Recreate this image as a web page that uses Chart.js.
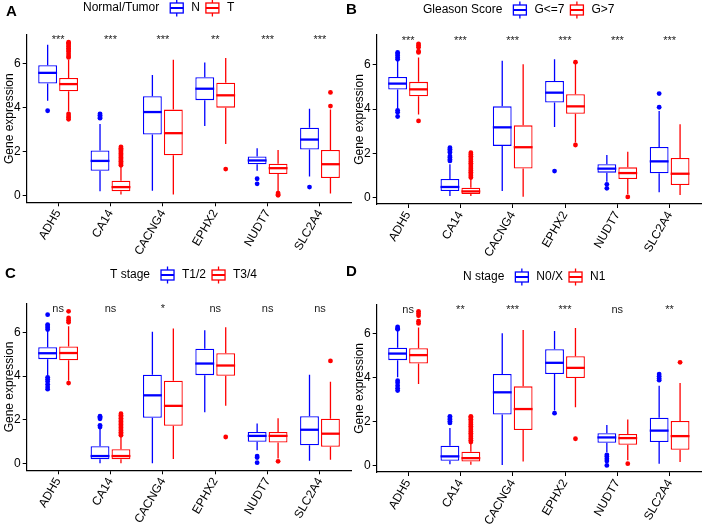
<!DOCTYPE html>
<html>
<head>
<meta charset="utf-8">
<script src="https://cdn.jsdelivr.net/npm/chart.js@4.4.1/dist/chart.umd.min.js"></script>
<style>
  html, body { margin: 0; padding: 0; background: #fff; }
  #wrap { position: relative; width: 703px; height: 524px; overflow: hidden; }
  canvas { position: absolute; }
</style>
</head>
<body>
<div id="wrap">
  <canvas id="chartA" width="352" height="262" style="left:0;top:0"></canvas>
  <canvas id="chartB" width="360" height="262" style="left:343px;top:0"></canvas>
  <canvas id="chartC" width="352" height="262" style="left:0;top:262px"></canvas>
  <canvas id="chartD" width="360" height="262" style="left:343px;top:262px"></canvas>
</div>
<script>
// genes on the x axis
const genes = ['ADH5', 'CA14', 'CACNG4', 'EPHX2', 'NUDT7', 'SLC2A4'];
const yTicks = [0, 2, 4, 6];

// box stats per gene: [lower whisker, Q1, median, Q3, upper whisker]
// A - Normal/Tumor
const boxA_N = [[4.31, 5.10, 5.58, 5.93, 6.86], [0.20, 1.13, 1.58, 2.05, 3.26], [0.23, 2.78, 3.80, 4.52, 5.48],
                [3.17, 4.34, 4.86, 5.38, 6.05], [1.13, 1.43, 1.60, 1.78, 2.16], [0.87, 2.10, 2.55, 3.09, 3.95]];
const boxA_T = [[3.82, 4.74, 5.07, 5.35, 6.18], [0.05, 0.20, 0.39, 0.68, 1.33], [0.05, 1.84, 2.84, 3.91, 6.18],
                [2.35, 4.00, 4.56, 5.13, 6.26], [0.20, 0.98, 1.25, 1.45, 2.08], [0.10, 0.80, 1.43, 2.08, 3.92]];
const outA_N = [[3.86], [3.52, 3.58, 3.65, 3.72], [], [], [0.77, 0.54], [0.39]];
const outA_T = [[6.28, 6.35, 6.45, 6.55, 6.62, 6.70, 6.78, 6.85, 6.92, 6.97, 3.72, 3.62, 3.55, 3.47],
                [1.38, 1.44, 1.50, 1.56, 1.62, 1.68, 1.74, 1.80, 1.86, 1.92, 1.98, 2.04, 2.10, 2.16, 2.22],
                [], [1.21], [0.12, 0.06, 0.02], [4.07, 4.69]];
const sigA = ['***', '***', '***', '**', '***', '***'];

// B - Gleason Score
const boxB_L = [[4.02, 4.88, 5.15, 5.45, 6.18], [0.06, 0.29, 0.47, 0.83, 1.50], [0.29, 2.33, 3.17, 4.12, 6.18],
                [3.19, 4.29, 4.74, 5.27, 6.25], [0.71, 1.12, 1.30, 1.50, 1.92], [0.23, 1.09, 1.63, 2.28, 3.91]];
const boxB_H = [[3.75, 4.58, 4.89, 5.23, 6.33], [0.06, 0.15, 0.27, 0.44, 0.85], [0.03, 1.31, 2.27, 3.26, 6.03],
                [2.48, 3.78, 4.12, 4.67, 6.05], [0.14, 0.83, 1.10, 1.36, 2.07], [0.11, 0.56, 1.07, 1.78, 3.31]];
const outB_L = [[6.25, 6.33, 6.42, 6.50, 6.56, 3.94, 3.85, 3.66], [2.25, 2.18, 2.10, 2.03, 1.87, 1.80, 1.72, 1.65],
                [], [1.19], [0.59, 0.41], [4.08, 4.70]];
const outB_H = [[6.56, 6.62, 6.80, 6.88, 6.95, 3.46],
                [0.90, 0.98, 1.06, 1.14, 1.22, 1.30, 1.38, 1.46, 1.54, 1.62, 1.70, 1.78, 1.86, 1.94, 2.02],
                [], [6.12, 2.37], [0.02], []];
const sigB = ['***', '***', '***', '***', '***', '***'];

// C - T stage
const boxC_1 = [[4.01, 4.77, 5.04, 5.31, 6.05], [0.02, 0.20, 0.35, 0.80, 1.60], [0.02, 2.10, 3.12, 4.06, 6.02],
                [2.35, 4.04, 4.57, 5.25, 6.09], [0.62, 1.00, 1.27, 1.45, 1.83], [0.14, 0.84, 1.55, 2.17, 4.06]];
const boxC_3 = [[3.79, 4.72, 5.05, 5.35, 6.27], [0.02, 0.20, 0.35, 0.66, 1.22], [0.21, 1.73, 2.64, 3.79, 6.17],
                [2.65, 4.01, 4.48, 5.04, 6.23], [0.24, 0.97, 1.27, 1.45, 2.08], [0.18, 0.77, 1.37, 2.05, 3.74]];
const outC_1 = [[6.80, 6.35, 6.28, 6.20, 6.12, 3.94, 3.85, 3.75, 3.62, 3.50, 3.40], [1.67, 1.75, 2.05, 2.12, 2.17],
                [], [], [0.35, 0.28, 0.05], []];
const outC_3 = [[6.95, 6.65, 6.55, 6.45, 3.68],
                [1.30, 1.37, 1.44, 1.51, 1.58, 1.65, 1.72, 1.79, 1.86, 1.93, 2.00, 2.07, 2.14, 2.21, 2.28],
                [], [1.22], [0.11], [4.69]];
const sigC = ['ns', 'ns', '*', 'ns', 'ns', 'ns'];

// D - N stage
const boxD_0 = [[4.00, 4.78, 5.08, 5.35, 6.11], [0.05, 0.21, 0.41, 0.89, 1.70], [0.02, 2.31, 3.32, 4.15, 6.00],
                [2.49, 4.15, 4.66, 5.28, 6.11], [0.60, 1.03, 1.27, 1.46, 1.84], [0.08, 1.06, 1.58, 2.17, 3.62]];
const boxD_1 = [[3.70, 4.63, 5.01, 5.32, 6.26], [0.03, 0.18, 0.33, 0.62, 0.98], [0.18, 1.61, 2.56, 3.59, 6.15],
                [2.64, 3.97, 4.43, 4.96, 6.24], [0.23, 0.94, 1.24, 1.43, 2.08], [0.15, 0.71, 1.33, 2.02, 3.74]];
const outD_0 = [[6.29, 6.22, 6.18, 3.85, 3.75, 3.62, 3.50, 3.40], [2.23, 2.15, 2.08, 2.00, 1.93],
                [], [2.37], [0.48, 0.40, 0.30, 0.20, 0.00], [4.15, 4.05, 3.95, 3.87]];
const outD_1 = [[7.00, 6.90, 6.80, 6.55, 6.45],
                [1.06, 1.14, 1.22, 1.30, 1.38, 1.46, 1.54, 1.62, 1.70, 1.78, 1.86, 1.94, 2.02, 2.10, 2.18, 2.23],
                [], [1.21], [0.08], [4.68]];
const sigD = ['ns', '**', '***', '***', 'ns', '**'];

const FONT = '"Liberation Sans", Arial, Helvetica, sans-serif';
Chart.defaults.font.family = FONT;
Chart.defaults.color = '#000';

// draws whiskers, medians, outliers, p-value labels, legend and panel letter
const boxExtras = {
    id: 'boxExtras',
    afterDatasetsDraw(chart, args, opts) {
        const ctx = chart.ctx;
        const x = chart.scales.x, y = chart.scales.y;
        chart.data.datasets.forEach((ds, k) => {
            const meta = chart.getDatasetMeta(k);
            meta.data.forEach((bar, i) => {
                const s = ds.stats[i];
                const cx = bar.x, w = bar.width;
                ctx.save();
                ctx.strokeStyle = ds.borderColor;
                ctx.lineWidth = 1.3;
                ctx.beginPath();
                ctx.moveTo(cx, y.getPixelForValue(s[4]));
                ctx.lineTo(cx, y.getPixelForValue(s[3]));
                ctx.moveTo(cx, y.getPixelForValue(s[1]));
                ctx.lineTo(cx, y.getPixelForValue(s[0]));
                ctx.stroke();
                ctx.lineWidth = 2.3;
                const ym = y.getPixelForValue(s[2]);
                ctx.beginPath();
                ctx.moveTo(cx - w / 2, ym);
                ctx.lineTo(cx + w / 2, ym);
                ctx.stroke();
                ctx.fillStyle = ds.borderColor;
                ds.outliers[i].forEach(v => {
                    ctx.beginPath();
                    ctx.arc(cx, y.getPixelForValue(v), 2.4, 0, Math.PI * 2);
                    ctx.fill();
                });
                ctx.restore();
            });
        });
        ctx.save();
        ctx.font = '11px ' + FONT;
        ctx.fillStyle = '#222';
        ctx.textAlign = 'center';
        ctx.textBaseline = 'alphabetic';
        opts.sig.forEach((t, i) => {
            ctx.fillText(t, x.getPixelForValue(i + 1), y.getPixelForValue(6.93));
        });
        ctx.restore();
    },
    afterDraw(chart, args, opts) {
        const ctx = chart.ctx;
        ctx.save();
        // panel letter
        ctx.font = 'bold 15px ' + FONT;
        ctx.fillStyle = '#000';
        ctx.textBaseline = 'middle';
        ctx.textAlign = 'left';
        ctx.fillText(opts.letter, opts.letterX, opts.letterY);
        // legend
        ctx.font = '12px ' + FONT;
        let lx = opts.legendX;
        const ly = opts.legendY;
        ctx.fillText(opts.title, lx, ly);
        lx += ctx.measureText(opts.title).width + 11;
        chart.data.datasets.forEach(ds => {
            ctx.strokeStyle = ds.borderColor;
            ctx.lineWidth = 1.3;
            ctx.strokeRect(lx, ly - 5, 13, 10);
            ctx.beginPath();
            ctx.moveTo(lx + 6.5, ly - 8.5); ctx.lineTo(lx + 6.5, ly - 5);
            ctx.moveTo(lx + 6.5, ly + 5); ctx.lineTo(lx + 6.5, ly + 8.5);
            ctx.stroke();
            ctx.lineWidth = 2;
            ctx.beginPath();
            ctx.moveTo(lx, ly); ctx.lineTo(lx + 13, ly);
            ctx.stroke();
            lx += 13 + 8;
            ctx.fillText(ds.label, lx, ly);
            lx += ctx.measureText(ds.label).width + 6;
        });
        ctx.restore();
    }
};

function createBoxChart(id, p) {
    const ctx = document.getElementById(id).getContext('2d');
    const canvasH = 262;
    const datasets = p.groups.map(g => ({
        label: g.name,
        data: g.box.map((b, i) => ({ x: i + 1, y: [b[1], b[3]] })),
        stats: g.box,
        outliers: g.out,
        backgroundColor: '#fff',
        borderColor: g.color,
        borderWidth: 1.3,
        borderSkipped: false,
        categoryPercentage: 0.8,
        barPercentage: 0.9
    }));

    new Chart(ctx, {
        type: 'bar',
        data: { datasets: datasets },
        plugins: [boxExtras],
        options: {
            responsive: false,
            animation: false,
            events: [],
            layout: { padding: { top: p.top, left: p.left, right: p.right, bottom: 0 } },
            plugins: {
                legend: { display: false },
                tooltip: { enabled: false },
                boxExtras: p.extras
            },
            scales: {
                x: {
                    type: 'linear',
                    offset: false,
                    min: 0.4,
                    max: 6.6,
                    afterBuildTicks: s => { s.ticks = genes.map((g, i) => ({ value: i + 1 })); },
                    afterFit: s => { s.height = canvasH - p.bottom; },
                    ticks: {
                        autoSkip: false,
                        maxRotation: 60,
                        minRotation: 60,
                        padding: 1,
                        font: { size: 12 },
                        color: '#000',
                        callback: v => genes[Math.round(v) - 1]
                    },
                    grid: { display: true, drawOnChartArea: false, drawTicks: true, tickLength: 4, color: '#000', offset: false },
                    border: { display: true, color: '#000', width: 1.2 }
                },
                y: {
                    min: -0.3,
                    max: p.yMax,
                    afterBuildTicks: s => { s.ticks = yTicks.map(v => ({ value: v })); },
                    afterFit: s => { s.width = 26.7; },
                    ticks: { padding: 2, font: { size: 12 }, color: '#000' },
                    grid: { display: true, drawOnChartArea: false, drawTicks: true, tickLength: 4, color: '#000' },
                    border: { display: true, color: '#000', width: 1.2 },
                    title: { display: true, text: 'Gene expression', font: { size: 12 }, color: '#000', padding: { top: 2, bottom: 0 } }
                }
            }
        }
    });
}

createBoxChart('chartA', {
    left: 0, top: 35, right: 0.6, bottom: 202.3, yMax: 7.3,
    groups: [{ name: 'N', color: '#0000FF', box: boxA_N, out: outA_N },
             { name: 'T', color: '#FF0000', box: boxA_T, out: outA_T }],
    extras: { sig: sigA, letter: 'A', letterX: 6, letterY: 12, title: 'Normal/Tumor', legendX: 83, legendY: 8 }
});
createBoxChart('chartB', {
    left: 7, top: 35, right: 2, bottom: 204, yMax: 7.35,
    groups: [{ name: 'G<=7', color: '#0000FF', box: boxB_L, out: outB_L },
             { name: 'G>7', color: '#FF0000', box: boxB_H, out: outB_H }],
    extras: { sig: sigB, letter: 'B', letterX: 3, letterY: 10, title: 'Gleason Score', legendX: 80, legendY: 10 }
});
createBoxChart('chartC', {
    left: 0, top: 41.7, right: 0.6, bottom: 208.3, yMax: 7.3,
    groups: [{ name: 'T1/2', color: '#0000FF', box: boxC_1, out: outC_1 },
             { name: 'T3/4', color: '#FF0000', box: boxC_3, out: outC_3 }],
    extras: { sig: sigC, letter: 'C', letterX: 5, letterY: 12, title: 'T stage', legendX: 110, legendY: 13 }
});
createBoxChart('chartD', {
    left: 7, top: 42.7, right: 2, bottom: 210, yMax: 7.3,
    groups: [{ name: 'N0/X', color: '#0000FF', box: boxD_0, out: outD_0 },
             { name: 'N1', color: '#FF0000', box: boxD_1, out: outD_1 }],
    extras: { sig: sigD, letter: 'D', letterX: 3, letterY: 10, title: 'N stage', legendX: 120, legendY: 15 }
});
</script>
</body>
</html>
